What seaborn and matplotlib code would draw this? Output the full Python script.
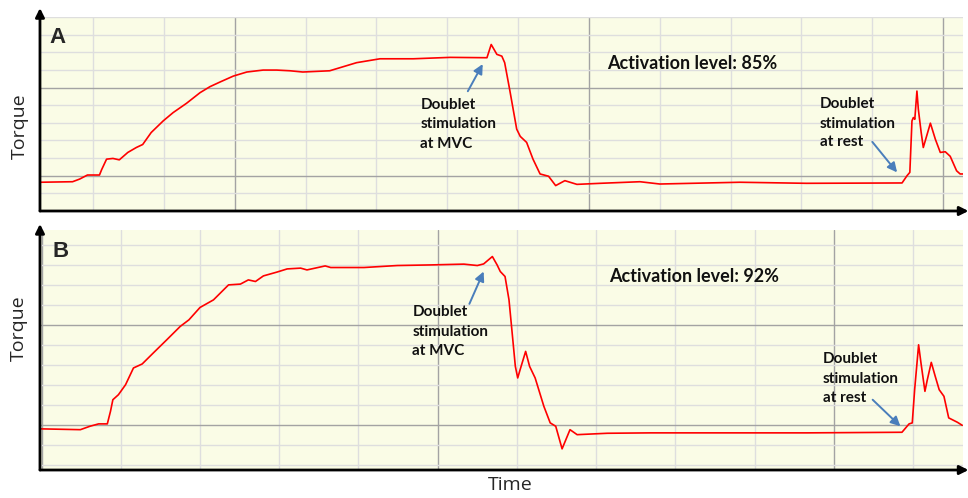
import matplotlib
matplotlib.use("Agg")
import matplotlib.pyplot as plt
from matplotlib.ticker import MultipleLocator, FixedLocator
import pandas as pd
import seaborn as sns

# Torque trace, panel A (time in grid units, torque in grid units)
time_a = [2.25, 2.71, 2.81, 2.92, 3.09, 3.12, 3.19, 3.28, 3.37, 3.49, 3.61, 3.70,
          3.82, 3.99, 4.13, 4.32, 4.51, 4.65, 4.79, 4.98, 5.17, 5.40, 5.59, 5.78,
          5.96, 6.34, 6.72, 7.05, 7.52, 8.04, 8.56, 8.62, 8.70, 8.77, 8.81, 8.88,
          8.98, 9.03, 9.12, 9.21, 9.31, 9.43, 9.53, 9.66, 9.83, 10.16, 10.72, 11.00,
          12.13, 13.07, 14.42, 14.49, 14.53, 14.56, 14.58, 14.60, 14.63, 14.65, 14.69,
          14.72, 14.82, 14.89, 14.96, 15.03, 15.10, 15.19, 15.24, 15.29]
torque_a = [1.63, 1.66, 1.81, 2.04, 2.04, 2.34, 2.94, 2.98, 2.90, 3.32, 3.60, 3.77,
            4.45, 5.11, 5.58, 6.11, 6.71, 7.05, 7.31, 7.65, 7.88, 7.99, 7.99, 7.95,
            7.88, 7.95, 8.41, 8.63, 8.63, 8.71, 8.69, 9.44, 8.88, 8.78, 8.41, 6.90,
            4.64, 4.23, 3.89, 2.94, 2.10, 1.97, 1.44, 1.72, 1.51, 1.57, 1.66, 1.53,
            1.63, 1.57, 1.59, 2.00, 2.19, 5.11, 5.30, 5.20, 6.80, 5.77, 4.45,
            3.60, 4.98, 4.07, 3.32, 3.36, 3.10, 2.28, 2.10, 2.10]

# Torque trace, panel B
time_b = [5.00, 5.49, 5.61, 5.72, 5.83, 5.87, 5.90, 5.97, 6.06, 6.16, 6.27, 6.41,
          6.58, 6.75, 6.86, 7.00, 7.17, 7.36, 7.51, 7.61, 7.70, 7.80, 7.97, 8.10,
          8.27, 8.35, 8.58, 8.65, 9.07, 9.49, 9.91, 10.33, 10.50, 10.58, 10.69, 10.75,
          10.79, 10.85, 10.90, 10.94, 10.98, 11.01, 11.04, 11.11, 11.16, 11.23, 11.34,
          11.42, 11.49, 11.57, 11.67, 11.76, 12.14, 12.69, 13.40, 14.66, 15.86, 15.95,
          15.99, 16.02, 16.07, 16.10, 16.15, 16.18, 16.23, 16.28, 16.33, 16.39, 16.45,
          16.56, 16.62]
torque_b = [1.79, 1.75, 1.92, 2.04, 2.04, 2.67, 3.25, 3.50, 4.00, 4.84, 5.04, 5.59,
            6.25, 6.92, 7.25, 7.87, 8.25, 9.00, 9.04, 9.25, 9.17, 9.45, 9.64, 9.80,
            9.84, 9.75, 9.95, 9.87, 9.87, 9.97, 10.00, 10.04, 9.97, 10.05, 10.42, 10.00,
            9.67, 9.42, 8.25, 6.59, 4.92, 4.34, 4.75, 5.67, 4.92, 4.34, 2.92,
            2.09, 1.92, 0.79, 1.75, 1.50, 1.57, 1.59, 1.59, 1.59, 1.62, 2.04,
            2.09, 3.75, 6.00, 5.09, 3.67, 4.25, 5.12, 4.42, 3.75, 3.42, 2.34,
            2.12, 1.97]

panel_letters = ["A", "B"]
activation_text = ["Activation level: 85%", "Activation level: 92%"]
mvc_note = ["Doublet", "stimulation", "at MVC"]
rest_note = ["Doublet", "stimulation", "at rest"]
y_label = "Torque"
x_label = "Time"

BG = "#fafce6"
MINOR = "#dedede"
MAJOR = "#a3a3a3"
TRACE = "#ff0000"
ARROW = "#4a7ebb"
NOTE_FONT = ["Lato", "DejaVu Sans"]
LABEL_FONT = ["Open Sans", "DejaVu Sans"]

sns.set_style("white")

fig = plt.figure(figsize=(9.68, 4.98), dpi=100)
ax_a = fig.add_axes([0.0413, 0.5763, 0.9535, 0.3896])
ax_b = fig.add_axes([0.0413, 0.0562, 0.9535, 0.4820])

df_a = pd.DataFrame({"time": time_a, "torque": torque_a})
df_b = pd.DataFrame({"time": time_b, "torque": torque_b})


def style_panel(ax, xlim, ylim, arrow_top):
    ax.set_facecolor(BG)
    ax.set_xlim(*xlim)
    ax.set_ylim(*ylim)
    ax.xaxis.set_major_locator(MultipleLocator(5))
    ax.xaxis.set_minor_locator(MultipleLocator(1))
    ax.yaxis.set_major_locator(FixedLocator([2, 7]))
    ax.yaxis.set_minor_locator(MultipleLocator(1))
    ax.grid(which="minor", color=MINOR, lw=1.0, zorder=0)
    ax.grid(which="major", color=MAJOR, lw=1.0, zorder=0)
    ax.set_axisbelow(True)
    ax.tick_params(which="both", length=0, labelleft=False, labelbottom=False)
    ax.set_xlabel("")
    ax.set_ylabel("")
    for s in ax.spines.values():
        s.set_visible(False)
    arrow_kw = dict(arrowstyle="-|>", color="black", lw=2.0, mutation_scale=13,
                    shrinkA=0, shrinkB=0)
    ax.annotate("", xy=(0, arrow_top), xytext=(0, 0), xycoords="axes fraction",
                textcoords="axes fraction", arrowprops=arrow_kw,
                annotation_clip=False, zorder=10)
    ax.annotate("", xy=(1.006, 0), xytext=(0, 0), xycoords="axes fraction",
                textcoords="axes fraction", arrowprops=arrow_kw,
                annotation_clip=False, zorder=10)


def note(ax, x, baselines, lines, size):
    for yb, line in zip(baselines, lines):
        ax.text(x, yb, line, family=NOTE_FONT, fontweight="bold", fontsize=size,
                ha="left", va="baseline", color="#111111", zorder=5)


def pointer(ax, tail, tip):
    ax.annotate("", xy=tip, xytext=tail,
                arrowprops=dict(arrowstyle="-|>", color=ARROW, lw=1.4,
                                mutation_scale=14, shrinkA=0, shrinkB=0),
                zorder=6)


sns.lineplot(data=df_a, x="time", y="torque", ax=ax_a, color=TRACE, lw=1.2,
             estimator=None, sort=False, zorder=4)
sns.lineplot(data=df_b, x="time", y="torque", ax=ax_b, color=TRACE, lw=1.2,
             estimator=None, sort=False, zorder=4)

style_panel(ax_a, (2.25, 15.28), (0, 11), 1.046)
style_panel(ax_b, (4.98, 16.63), (-0.27, 11.75), 1.025)

# Panel A annotations
ax_a.text(2.39, 9.54, panel_letters[0], family=["Liberation Sans"], fontweight="bold",
          fontsize=16, ha="left", va="baseline")
ax_a.text(10.25, 8.03, activation_text[0], family=NOTE_FONT, fontweight="bold",
          fontsize=13, ha="left", va="baseline", color="#111111")
note(ax_a, 7.62, [5.81, 4.68, 3.60], mvc_note, 11)
note(ax_a, 13.26, [5.86, 4.73, 3.66], rest_note, 11)
pointer(ax_a, (8.29, 6.79), (8.50, 8.33))
pointer(ax_a, (14.00, 3.92), (14.35, 2.19))

# Panel B annotations
ax_b.text(5.14, 10.42, panel_letters[1], family=["Liberation Sans"], fontweight="bold",
          fontsize=16, ha="left", va="baseline")
ax_b.text(12.16, 9.15, activation_text[1], family=NOTE_FONT, fontweight="bold",
          fontsize=13, ha="left", va="baseline", color="#111111")
note(ax_b, 9.68, [7.42, 6.45, 5.47], mvc_note, 11)
note(ax_b, 14.86, [5.09, 4.09, 3.12], rest_note, 11)
pointer(ax_b, (10.40, 8.05), (10.58, 9.67))
pointer(ax_b, (15.49, 3.25), (15.84, 1.92))

# Axis titles
fig.text(0.0207, 0.747, y_label, rotation=90, family=LABEL_FONT, fontsize=14,
         ha="center", va="center")
fig.text(0.0190, 0.341, y_label, rotation=90, family=LABEL_FONT, fontsize=14,
         ha="center", va="center")
fig.text(0.527, 0.026, x_label, family=LABEL_FONT, fontsize=14,
         ha="center", va="center")

fig.savefig("out.png", dpi=100, facecolor="white")
